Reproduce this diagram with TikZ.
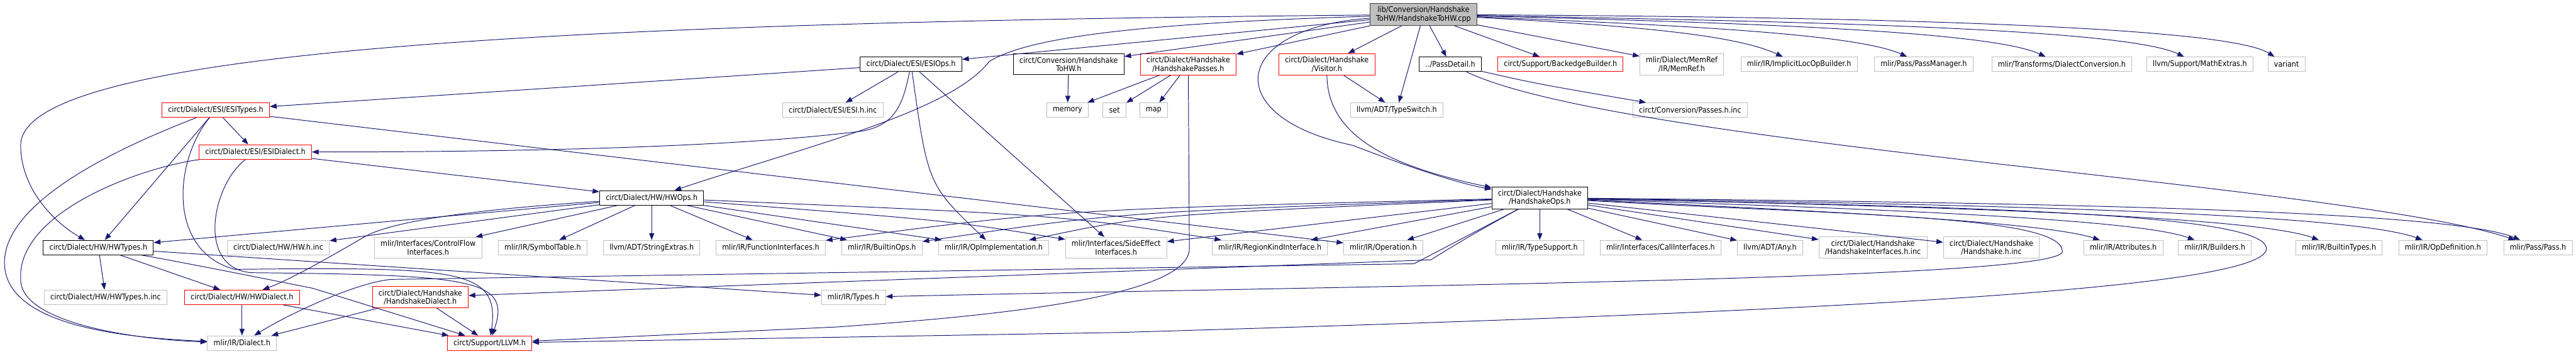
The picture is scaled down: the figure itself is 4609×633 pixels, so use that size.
\documentclass[tikz,border=0pt]{standalone}
\usepackage{fontspec}
\usepackage{tikz}
\usetikzlibrary{arrows.meta}
\newfontfamily\dotfont{DejaVu Sans Condensed}
\definecolor{edgeblue}{HTML}{191970}
\definecolor{extline}{HTML}{BFBFBF}
\definecolor{truncline}{HTML}{FF0000}
\definecolor{rootfill}{HTML}{BFBFBF}
\definecolor{rootline}{HTML}{404040}

\begin{document}
\begin{tikzpicture}[x=1pt,y=-1pt,
  hdr/.style={draw=black,fill=white,line width=1.1pt,font=\dotfont\fontsize{14}{15}\selectfont,align=center,inner xsep=11pt,inner ysep=5.5pt,minimum height=26pt},
  redhdr/.style={hdr,draw=truncline},
  exthdr/.style={hdr,draw=extline},
  roothdr/.style={hdr,fill=rootfill,draw=rootline},
  dep/.style={edgeblue,line width=1.1pt,-{Triangle[length=12pt,width=9pt]}}]
  \useasboundingbox (0,0) rectangle (4609,633);
  \fill[white] (0,0) rectangle (4609,633);

  \node[roothdr] (root) at (2547,26) {lib/Conversion/Handshake\\ToHW/HandshakeToHW.cpp};

  \node[hdr] (esiops) at (1630,115) {circt/Dialect/ESI/ESIOps.h};
  \node[hdr] (hstohwh) at (1912,115) {circt/Conversion/Handshake\\ToHW.h};
  \node[redhdr] (hspasses) at (2126,115) {circt/Dialect/Handshake\\/HandshakePasses.h};
  \node[redhdr] (visitor) at (2374,115) {circt/Dialect/Handshake\\/Visitor.h};
  \node[hdr] (passdetail) at (2595,115) {../PassDetail.h};
  \node[redhdr] (backedge) at (2792,115) {circt/Support/BackedgeBuilder.h};
  \node[exthdr] (memref) at (3009,115) {mlir/Dialect/MemRef\\/IR/MemRef.h};
  \node[exthdr] (implicitloc) at (3219,115) {mlir/IR/ImplicitLocOpBuilder.h};
  \node[exthdr] (passmgr) at (3442,115) {mlir/Pass/PassManager.h};
  \node[exthdr] (dialconv) at (3689,115) {mlir/Transforms/DialectConversion.h};
  \node[exthdr] (mathext) at (3936,115) {llvm/Support/MathExtras.h};
  \node[exthdr] (variant) at (4091,115) {variant};

  \node[redhdr] (esitypes) at (386,197) {circt/Dialect/ESI/ESITypes.h};
  \node[exthdr] (esiinc) at (1490,197) {circt/Dialect/ESI/ESI.h.inc};
  \node[exthdr] (memory) at (1910,197) {memory};
  \node[exthdr] (set) at (1994,197) {set};
  \node[exthdr] (map) at (2064,197) {map};
  \node[exthdr] (typeswitch) at (2499,197) {llvm/ADT/TypeSwitch.h};
  \node[exthdr] (passesinc) at (3024,197) {circt/Conversion/Passes.h.inc};

  \node[redhdr] (esidialect) at (457,272) {circt/Dialect/ESI/ESIDialect.h};

  \node[hdr] (hwops) at (1166,354) {circt/Dialect/HW/HWOps.h};
  \node[hdr] (hsops) at (2755,354) {circt/Dialect/Handshake\\/HandshakeOps.h};

  \node[hdr] (hwtypes) at (176,443) {circt/Dialect/HW/HWTypes.h};
  \node[exthdr] (hwinc) at (498,443) {circt/Dialect/HW/HW.h.inc};
  \node[exthdr] (ctrlflow) at (766,443) {mlir/Interfaces/ControlFlow\\Interfaces.h};
  \node[exthdr] (symtab) at (971,443) {mlir/IR/SymbolTable.h};
  \node[exthdr] (strext) at (1166,443) {llvm/ADT/StringExtras.h};
  \node[exthdr] (funcif) at (1379,443) {mlir/IR/FunctionInterfaces.h};
  \node[exthdr] (builtinops) at (1578,443) {mlir/IR/BuiltinOps.h};
  \node[exthdr] (opimpl) at (1778,443) {mlir/IR/OpImplementation.h};
  \node[exthdr] (sideeff) at (1997,443) {mlir/Interfaces/SideEffect\\Interfaces.h};
  \node[exthdr] (regionkind) at (2272,443) {mlir/IR/RegionKindInterface.h};
  \node[exthdr] (operation) at (2475,443) {mlir/IR/Operation.h};
  \node[exthdr] (typesupp) at (2755,443) {mlir/IR/TypeSupport.h};
  \node[exthdr] (callif) at (2971,443) {mlir/Interfaces/CallInterfaces.h};
  \node[exthdr] (anyh) at (3167,443) {llvm/ADT/Any.h};
  \node[exthdr] (hsifinc) at (3351,443) {circt/Dialect/Handshake\\/HandshakeInterfaces.h.inc};
  \node[exthdr] (hsinc) at (3563,443) {circt/Dialect/Handshake\\/Handshake.h.inc};
  \node[exthdr] (attrs) at (3799,443) {mlir/IR/Attributes.h};
  \node[exthdr] (builders) at (3963,443) {mlir/IR/Builders.h};
  \node[exthdr] (builtintypes) at (4185,443) {mlir/IR/BuiltinTypes.h};
  \node[exthdr] (opdef) at (4371,443) {mlir/IR/OpDefinition.h};
  \node[exthdr] (passh) at (4541,443) {mlir/Pass/Pass.h};

  \node[exthdr] (hwtypesinc) at (189,532) {circt/Dialect/HW/HWTypes.h.inc};
  \node[redhdr] (hwdialect) at (433,532) {circt/Dialect/HW/HWDialect.h};
  \node[redhdr] (hsdialect) at (752,532) {circt/Dialect/Handshake\\/HandshakeDialect.h};
  \node[exthdr] (typesh) at (1527,532) {mlir/IR/Types.h};

  \node[exthdr] (dialecth) at (433,614) {mlir/IR/Dialect.h};
  \node[redhdr] (llvmh) at (876,614) {circt/Support/LLVM.h};

  \foreach \t in {esiops,hstohwh,hspasses,visitor,typeswitch,passdetail,backedge,memref}
    \draw[dep] (root) -- (\t);
  \draw[dep] (root) .. controls (2900,45) and (3100,60) .. (implicitloc);
  \draw[dep] (root) .. controls (3000,45) and (3320,60) .. (passmgr);
  \draw[dep] (root) .. controls (3100,40) and (3560,55) .. (dialconv);
  \draw[dep] (root) .. controls (3200,38) and (3800,50) .. (mathext);
  \draw[dep] (root) .. controls (3300,30) and (3980,45) .. (variant);
  \draw[dep] (root) .. controls (1000,40) and (37,90) .. (37,260) .. controls (37,340) and (100,400) .. (hwtypes);
  \draw[dep] (root) .. controls (2100,40) and (1850,60) .. (1770,110) .. controls (1700,200) and (1450,260) .. (hwops);
  \draw[dep] (root) .. controls (2200,50) and (2180,210) .. (2420,260) .. controls (2550,310) and (2620,330) .. (hsops);

  \draw[dep] (esiops) -- (esitypes);
  \draw[dep] (esiops) -- (esiinc);
  \draw[dep] (esiops) .. controls (1615,190) and (1600,225) .. (1540,235) .. controls (1300,265) and (900,272) .. (esidialect);
  \draw[dep] (esiops) .. controls (1660,330) .. (opimpl);
  \draw[dep] (esiops) -- (sideeff);
  \draw[dep] (esitypes) -- (esidialect);
  \draw[dep] (esitypes) -- (hwtypes);
  \draw[dep] (esitypes) -- (operation);
  \draw[dep] (esitypes) .. controls (250,250) and (8,350) .. (8,470) .. controls (8,590) and (250,605) .. (dialecth);
  \draw[dep] (esitypes) .. controls (310,290) and (300,450) .. (420,482) .. controls (820,478) and (895,480) .. (llvmh);
  \draw[dep] (esidialect) -- (hwops);
  \draw[dep] (esidialect) .. controls (250,300) and (30,380) .. (37,500) .. controls (37,580) and (250,608) .. (dialecth);
  \draw[dep] (esidialect) .. controls (380,330) and (350,480) .. (450,488) .. controls (850,492) and (915,500) .. (llvmh);

  \foreach \t in {hwtypes,hwinc,ctrlflow,symtab,strext,funcif,builtinops,opimpl}
    \draw[dep] (hwops) -- (\t);
  \draw[dep] (hwops) .. controls (850,375) and (700,395) .. (650,425) .. controls (590,460) and (520,500) .. (hwdialect);
  \draw[dep] (hwops) .. controls (1700,395) .. (sideeff);
  \draw[dep] (hwops) .. controls (1900,385) .. (regionkind);

  \draw[dep] (hwtypes) -- (hwtypesinc);
  \draw[dep] (hwtypes) -- (hwdialect);
  \draw[dep] (hwtypes) -- (typesh);
  \draw[dep] (hwtypes) .. controls (330,470) and (480,500) .. (560,516) -- (llvmh);
  \draw[dep] (hwdialect) -- (dialecth);
  \draw[dep] (hwdialect) -- (llvmh);
  \draw[dep] (hsdialect) -- (dialecth);
  \draw[dep] (hsdialect) -- (llvmh);

  \draw[dep] (visitor) -- (typeswitch);
  \draw[dep] (visitor) .. controls (2375,250) and (2500,300) .. (hsops);
  \draw[dep] (hstohwh) -- (memory);
  \foreach \t in {memory,set,map}
    \draw[dep] (hspasses) -- (\t);
  \draw[dep] (hspasses) -- (2128,445) .. controls (2128,540) and (1700,570) .. (1500,585) -- (llvmh);
  \draw[dep] (passdetail) .. controls (2750,150) .. (passesinc);
  \draw[dep] (passdetail) .. controls (2900,260) and (4200,330) .. (passh);

  \foreach \t in {sideeff,regionkind,operation,typesupp,callif,anyh,hsifinc,hsinc}
    \draw[dep] (hsops) -- (\t);
  \draw[dep] (hsops) .. controls (2050,385) .. (opimpl);
  \draw[dep] (hsops) .. controls (2000,380) .. (builtinops);
  \draw[dep] (hsops) .. controls (1900,375) .. (funcif);
  \draw[dep] (hsops) .. controls (3200,375) and (3650,395) .. (attrs);
  \draw[dep] (hsops) .. controls (3300,372) and (3820,390) .. (builders);
  \draw[dep] (hsops) .. controls (3400,368) and (4030,385) .. (builtintypes);
  \draw[dep] (hsops) .. controls (3500,365) and (4200,380) .. (opdef);
  \draw[dep] (hsops) .. controls (3600,362) and (4380,375) .. (passh);
  \draw[dep] (hsops) .. controls (2650,410) and (2600,440) .. (2560,465) -- (hsdialect);
  \draw[dep] (hsops) -- (2530,472) -- (700,500) .. controls (640,505) and (520,560) .. (dialecth);
  \draw[dep] (hsops) .. controls (3300,385) and (3690,385) .. (3690,450) .. controls (3690,500) and (2500,510) .. (typesh);
  \draw[dep] (hsops) .. controls (3500,370) and (4055,380) .. (4055,445) .. controls (4055,520) and (3200,560) .. (2000,595) -- (llvmh);
\end{tikzpicture}
\end{document}
